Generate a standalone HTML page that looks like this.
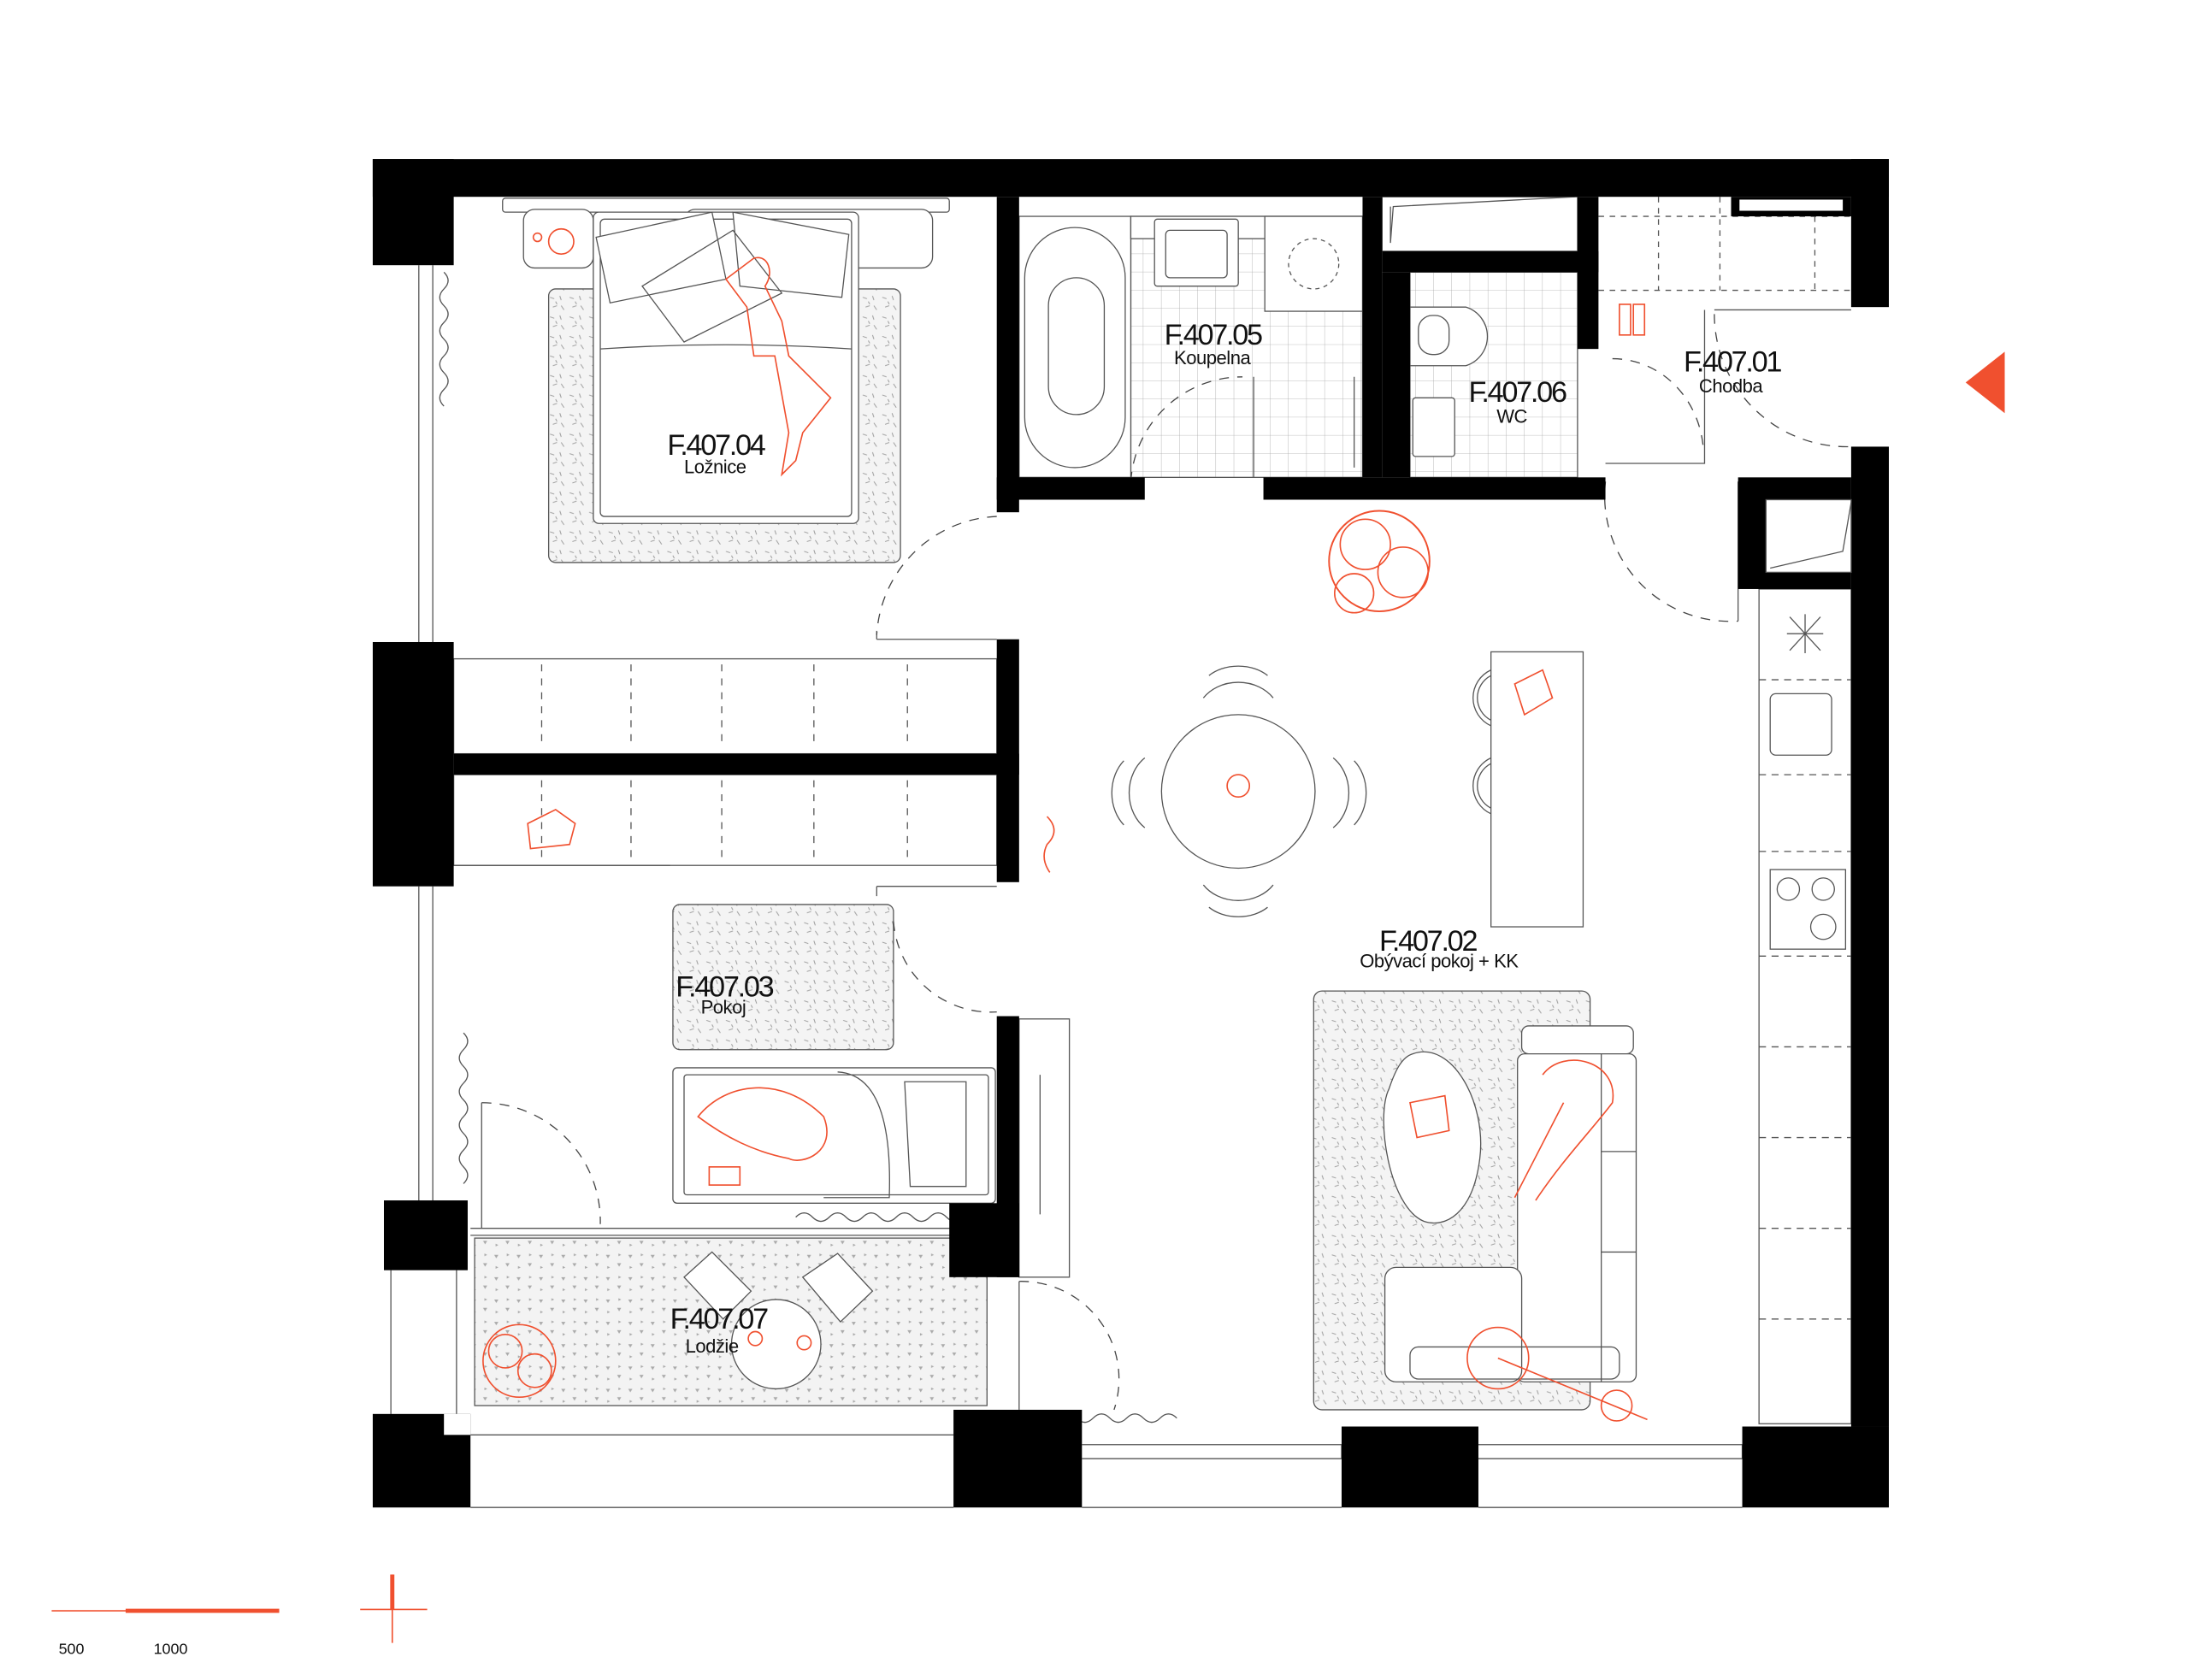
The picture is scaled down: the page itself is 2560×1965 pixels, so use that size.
<!DOCTYPE html>
<html><head><meta charset="utf-8"><style>
html,body{margin:0;padding:0;background:#fff;}
svg{display:block}
text{font-family:"Liberation Sans",sans-serif;fill:#111}
.t{font-size:21px;letter-spacing:-1.4px}
.s{font-size:13.5px;letter-spacing:-0.3px}
</style></head><body>
<svg width="2560" height="1965" viewBox="0 0 1568 1203.6" preserveAspectRatio="none" xmlns="http://www.w3.org/2000/svg">
<defs>
<pattern id="rug" width="14" height="14" patternUnits="userSpaceOnUse">
<rect width="14" height="14" fill="#f4f4f4"/>
<path d="M2 3l3 1M9 2l1 3M4 10l3-1M10 9l2 3M6 6l1 2" stroke="#9a9a9a" stroke-width="0.6"/>
</pattern>
<pattern id="tri" width="16" height="16" patternUnits="userSpaceOnUse">
<rect width="16" height="16" fill="#f3f3f3"/>
<path d="M2 3l3 0l-1.5 2.5zM10 9l3 0l-1.5 2.5zM11 2l2 1l-2 1zM3 11l2 1l-2 1z" fill="#aaa"/>
</pattern>
<pattern id="tile" width="13" height="13" patternUnits="userSpaceOnUse">
<path d="M13 0V13H0" fill="none" stroke="#aaa" stroke-width="0.5"/>
</pattern>
</defs>
<g fill="none" stroke="#555" stroke-width="0.8">
<rect x="393" y="207" width="252" height="196" rx="5" fill="url(#rug)"/>
<rect x="482" y="648" width="158" height="104" rx="5" fill="url(#rug)"/>
<rect x="941" y="710" width="198" height="300" rx="6" fill="url(#rug)"/>
<rect x="340" y="887" width="367" height="120" fill="url(#tri)"/>
<rect x="810" y="155" width="166" height="187" fill="url(#tile)"/>
<rect x="1010" y="195" width="120" height="147" fill="url(#tile)"/>
<rect x="360" y="142" width="320" height="10" rx="2" fill="#fff"/>
<rect x="375" y="150" width="50" height="42" rx="8" fill="#fff"/>
<rect x="490" y="150" width="178" height="42" rx="8" fill="#fff"/>
<rect x="425" y="152" width="190" height="223" rx="4" fill="#fff"/>
<rect x="430" y="157" width="180" height="213" rx="3"/>
<path d="M430 250 Q520 244 610 250"/>
<path d="M427 170L510 152L520 200L437 217Z M460 205L525 165L560 210L490 245Z M525 152L608 168L603 213L530 205Z" fill="#fff"/>
<rect x="730" y="155" width="80" height="187" fill="#fff"/>
<rect x="734" y="163" width="72" height="172" rx="36"/>
<rect x="751" y="199" width="40" height="98" rx="20"/>
<rect x="810" y="155" width="166" height="16" fill="#fff"/>
<rect x="827" y="157" width="60" height="48" rx="2" fill="#fff"/>
<rect x="835" y="165" width="44" height="34" rx="3"/>
<rect x="906" y="155" width="70" height="68" fill="#fff"/>
<circle cx="941" cy="189" r="18" stroke-dasharray="3 3"/>
<path d="M898 270V342 M970 270V335"/>
<rect x="990" y="141" width="140" height="39" fill="#fff"/>
<path d="M996 174L998 148L1128 141 M996 174V148"/>
<path d="M1010 220H1050A22 22 0 0 1 1050 262H1010Z" fill="#fff"/>
<rect x="1016" y="226" width="22" height="28" rx="10"/>
<rect x="1012" y="285" width="30" height="42" rx="2" fill="#fff"/>
<path d="M1145 155H1326 M1145 208H1326 M1188 141V208 M1232 141V208 M1300 155V208" stroke-dasharray="4 4"/>
<path d="M1228 222H1326 M1221 222V332H1150"/>
<rect x="325" y="472" width="389" height="68"/>
<rect x="325" y="555" width="389" height="65"/>
<path d="M388 476V536 M452 476V536 M517 476V536 M583 476V536 M650 476V536 M388 559V616 M452 559V616 M517 559V616 M583 559V616 M650 559V616" stroke-dasharray="5 5"/>
<path d="M628 458H714 M628 635H714 M628 458V452 M628 635V642"/>
<circle cx="887" cy="567" r="55" fill="#fff"/>
<path d="M862 500A30 25 0 0 1 912 500 M862 634A30 25 0 0 0 912 634 M820 543A25 30 0 0 0 820 593 M955 543A25 30 0 0 1 955 593 M866 484A28 20 0 0 1 908 484 M866 650A28 20 0 0 0 908 650 M805 545A24 30 0 0 0 805 591 M970 545A24 30 0 0 1 970 591"/>
<rect x="1068" y="467" width="66" height="197" fill="#fff"/>
<path d="M1068 480A22 22 0 0 0 1068 520 M1068 484A18 18 0 0 0 1068 516 M1068 543A22 22 0 0 0 1068 583 M1068 547A18 18 0 0 0 1068 579"/>
<rect x="1260" y="422" width="66" height="598"/>
<path d="M1260 487H1326 M1260 555H1326 M1260 610H1326 M1260 685H1326 M1260 750H1326 M1260 815H1326 M1260 880H1326 M1260 945H1326" stroke-dasharray="5 4"/>
<rect x="1268" y="497" width="44" height="44" rx="4"/>
<rect x="1268" y="623" width="54" height="57"/>
<circle cx="1281" cy="637" r="8"/><circle cx="1306" cy="637" r="8"/><circle cx="1306" cy="664" r="9"/>
<path d="M1282 442L1304 466M1304 442L1282 466M1293 440V468M1280 454H1306"/>
<rect x="482" y="765" width="231" height="97" rx="3" fill="#fff"/>
<rect x="490" y="770" width="218" height="86" rx="2"/>
<path d="M600 768Q640 770 637 858H590 M648 775H692V850H652Z"/>
<rect x="730" y="730" width="36" height="185" fill="#fff"/>
<path d="M745 770V870"/>
<rect x="1090" y="735" width="80" height="20" rx="5" fill="#fff"/>
<rect x="1087" y="755" width="85" height="235" rx="5" fill="#fff"/>
<path d="M1147 755V990 M1147 825H1172 M1147 897H1172"/>
<rect x="992" y="908" width="98" height="82" rx="8" fill="#fff"/>
<rect x="1010" y="965" width="150" height="23" rx="6"/>
<path d="M1012 755C1040 745 1065 790 1060 830C1055 870 1035 880 1020 875C995 865 985 800 995 780C1000 765 1005 757 1012 755Z" fill="#fff"/>
<circle cx="556" cy="963" r="32" fill="#fff"/>
<path d="M490 915L510 897L538 925L518 945Z M575 915L600 898L625 925L602 947Z" fill="#fff"/>
<g stroke-dasharray="7 6" stroke="#444">
<path d="M714 370A90 90 0 0 0 628 455"/>
<path d="M810 345A80 80 0 0 1 890 270"/>
<path d="M1150 345A90 90 0 0 0 1245 445"/>
<path d="M1155 257A65 70 0 0 1 1220 320"/>
<path d="M1228 225A95 95 0 0 0 1326 320"/>
<path d="M640 660A70 70 0 0 0 714 725"/>
<path d="M345 790A85 85 0 0 1 430 877"/>
<path d="M730 918A70 70 0 0 1 798 1010"/>
</g>
<path d="M345 790V880 M730 918V1010 M1245 345V445"/>
<path d="M318 195q6 6 0 12q-6 6 0 12q6 6 0 12q-6 6 0 12q6 6 0 12q-6 6 0 12q6 6 0 12q-6 6 0 12M332 740q6 6 0 12q-6 6 0 12q6 6 0 12q-6 6 0 12q6 6 0 12q-6 6 0 12q6 6 0 12q-6 6 0 12q6 6 0 12M570 872q6 -6 12 0q6 6 12 0q6 -6 12 0q6 6 12 0q6 -6 12 0q6 6 12 0q6 -6 12 0q6 6 12 0q6 -6 12 0q6 6 12 0M735 1016q6 -6 12 0q6 6 12 0q6 -6 12 0q6 6 12 0q6 -6 12 0q6 6 12 0q6 -6 12 0q6 6 12 0q6 -6 12 0"/>
<path d="M300 190V460M310 190V460M300 635V860M310 635V860M280 910V1013M327 910V1013M337 1028H683M337 1080H683M775 1035H961V1045H775M1059 1035H1248V1045H1059M775 1080H961M1059 1080H1248M337 885H683M337 880H683M325 620H480"/>
</g>
<g fill="#000">
<rect x="267" y="114" width="1086" height="27"/>
<rect x="267" y="114" width="58" height="76"/>
<rect x="1326" y="114" width="27" height="106"/>
<rect x="1240" y="141" width="86" height="14"/>
<rect x="714" y="141" width="16" height="226"/>
<rect x="714" y="342" width="106" height="16"/>
<rect x="976" y="141" width="14" height="201"/>
<rect x="990" y="180" width="155" height="15"/>
<rect x="990" y="195" width="20" height="147"/>
<rect x="1130" y="141" width="15" height="109"/>
<rect x="905" y="342" width="245" height="16"/>
<rect x="1245" y="342" width="81" height="80"/>
<rect x="1326" y="320" width="27" height="702"/>
<rect x="1248" y="1022" width="105" height="58"/>
<rect x="267" y="460" width="58" height="175"/>
<rect x="325" y="540" width="405" height="15"/>
<rect x="714" y="458" width="16" height="174"/>
<rect x="714" y="728" width="16" height="187"/>
<rect x="680" y="862" width="50" height="53"/>
<rect x="275" y="860" width="60" height="50"/>
<rect x="267" y="1013" width="70" height="67"/>
<rect x="683" y="1010" width="92" height="70"/>
<rect x="961" y="1022" width="98" height="58"/>
</g>
<rect x="1265" y="358" width="61" height="52" fill="#fff" stroke="#555" stroke-width="0.8"/>
<path d="M1268 407L1320 395L1326 360" fill="none" stroke="#555" stroke-width="0.8"/>
<rect x="1246" y="143" width="74" height="8" fill="#fff"/>
<rect x="318" y="1013" width="19" height="15" fill="#fff"/>
<g fill="none" stroke="#f0502f" stroke-width="1">
<path d="M540 185C550 182 555 195 548 205L560 230L565 255L595 285L575 310L570 330L560 340L565 310L555 255L540 255L535 220L520 200Z"/>
<circle cx="402" cy="173" r="9"/><circle cx="385" cy="170" r="3"/>
<path d="M1160 218h8v22h-8zM1170 218h8v22h-8z"/>
<circle cx="988" cy="402" r="36" stroke-width="1.2"/><circle cx="978" cy="390" r="18"/><circle cx="1005" cy="410" r="18"/><circle cx="970" cy="425" r="14"/>
<circle cx="887" cy="563" r="8"/>
<path d="M1085 490L1105 480L1112 500L1092 512Z"/>
<path d="M378 590L398 580L412 590L408 605L380 608Z"/>
<path d="M750 585q10 10 0 20q-5 10 2 20"/>
<path d="M1105 770C1120 750 1160 760 1155 790C1140 810 1120 830 1100 860M1120 790L1085 858"/>
<path d="M1010 790L1035 785L1038 810L1015 815Z"/>
<circle cx="1073" cy="973" r="22"/><circle cx="1158" cy="1007" r="11"/><path d="M1073 973L1180 1017"/>
<path d="M500 800C520 775 560 770 590 800C600 825 575 835 565 830C540 825 520 815 500 800Z"/>
<rect x="508" y="836" width="22" height="13"/>
<circle cx="372" cy="975" r="26"/><circle cx="362" cy="968" r="12"/><circle cx="383" cy="982" r="12"/>
<circle cx="541" cy="959" r="5"/><circle cx="576" cy="962" r="5"/>
<path d="M37 1154H200"/>
</g>
<path d="M90 1154H200" stroke="#f0502f" stroke-width="3"/>
<path d="M258 1153H306M281 1128V1177" stroke="#f0502f" stroke-width="1"/>
<path d="M281 1128V1153" stroke="#f0502f" stroke-width="3"/>
<polygon points="1408,274 1436,252 1436,296" fill="#f0502f"/>
<text x="478" y="326" class="t">F.407.04</text><text x="490" y="339" class="s">Ložnice</text>
<text x="834" y="247" class="t">F.407.05</text><text x="841" y="261" class="s">Koupelna</text>
<text x="1052" y="288" class="t">F.407.06</text><text x="1072" y="303" class="s">WC</text>
<text x="1206" y="266" class="t">F.407.01</text><text x="1217" y="281" class="s">Chodba</text>
<text x="988" y="681" class="t">F.407.02</text><text x="974" y="693" class="s">Obývací pokoj + KK</text>
<text x="484" y="714" class="t">F.407.03</text><text x="502" y="726" class="s">Pokoj</text>
<text x="480" y="952" class="t">F.407.07</text><text x="491" y="969" class="s">Lodžie</text>
<text x="42" y="1185" style="font-size:11px">500</text>
<text x="110" y="1185" style="font-size:11px">1000</text>
</svg>
</body></html>
